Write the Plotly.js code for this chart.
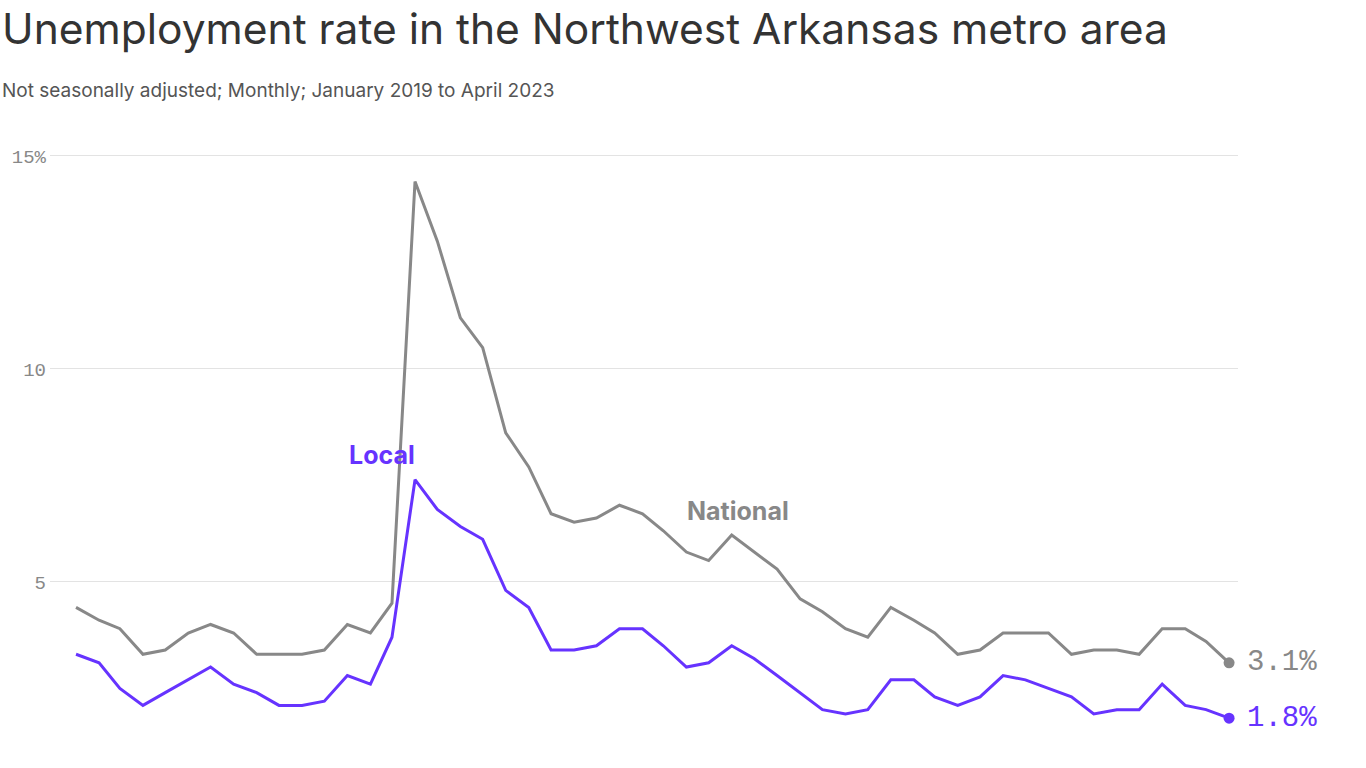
<!DOCTYPE html>
<html>
<head>
<meta charset="utf-8">
<script src="https://cdn.plot.ly/plotly-3.0.1.min.js"></script>
<style>
html,body{margin:0;padding:0;background:#fff;}
#chart{width:1366px;height:768px;}
</style>
</head>
<body>
<div id="chart"></div>
<script>
// Monthly, January 2019 to April 2023
const startYear = 2019;
const monthCount = 52;
const national = [
  4.4, 4.1, 3.9, 3.3, 3.4, 3.8, 4.0, 3.8, 3.3, 3.3, 3.3, 3.4,
  4.0, 3.8, 4.5, 14.4, 13.0, 11.2, 10.5, 8.5, 7.7, 6.6, 6.4, 6.5,
  6.8, 6.6, 6.2, 5.7, 5.5, 6.1, 5.7, 5.3, 4.6, 4.3, 3.9, 3.7,
  4.4, 4.1, 3.8, 3.3, 3.4, 3.8, 3.8, 3.8, 3.3, 3.4, 3.4, 3.3,
  3.9, 3.9, 3.6, 3.1
];
const local = [
  3.3, 3.1, 2.5, 2.1, 2.4, 2.7, 3.0, 2.6, 2.4, 2.1, 2.1, 2.2,
  2.8, 2.6, 3.7, 7.4, 6.7, 6.3, 6.0, 4.8, 4.4, 3.4, 3.4, 3.5,
  3.9, 3.9, 3.5, 3.0, 3.1, 3.5, 3.2, 2.8, 2.4, 2.0, 1.9, 2.0,
  2.7, 2.7, 2.3, 2.1, 2.3, 2.8, 2.7, 2.5, 2.3, 1.9, 2.0, 2.0,
  2.6, 2.1, 2.0, 1.8
];
const yTickVals = [5, 10, 15];
const yTickText = ["5", "10", "15%"];
const seriesLabels = ["Local", "National"];

const months = [];
for (let i = 0; i < monthCount; i++) {
  const y = startYear + Math.floor(i / 12);
  const m = (i % 12) + 1;
  months.push(y + "-" + String(m).padStart(2, "0") + "-01");
}

const PURPLE = "#6633ff";
const GRAY = "#888888";
const MONO = "Liberation Mono, DejaVu Sans Mono, monospace";
const SANS = "Inter, Roboto, sans-serif";
const last = monthCount - 1;

const traces = [
  {x: months, y: national, type: "scatter", mode: "lines",
   line: {color: GRAY, width: 3}, hoverinfo: "skip"},
  {x: months, y: local, type: "scatter", mode: "lines",
   line: {color: PURPLE, width: 3}, hoverinfo: "skip"},
  {x: [months[last]], y: [national[last]], type: "scatter", mode: "markers",
   marker: {color: GRAY, size: 11}, cliponaxis: false, hoverinfo: "skip"},
  {x: [months[last]], y: [local[last]], type: "scatter", mode: "markers",
   marker: {color: PURPLE, size: 11}, cliponaxis: false, hoverinfo: "skip"}
];

const L = 50, W = 1188, T = 130, H = 615;
const px = p => (p - L) / W;
const py = p => 1 - (p - T) / H;

const layout = {
  width: 1366, height: 768,
  margin: {l: L, r: 1366 - L - W, t: T, b: 768 - T - H},
  paper_bgcolor: "#fff", plot_bgcolor: "#fff",
  showlegend: false,
  xaxis: {
    type: "date",
    range: ["2018-11-27", "2023-04-13"],
    showgrid: false, zeroline: false, showline: false,
    showticklabels: false, ticks: ""
  },
  yaxis: {
    range: [1.17, 15.61],
    tickvals: yTickVals, ticktext: yTickText,
    showgrid: true, gridcolor: "#e3e3e3", gridwidth: 1,
    zeroline: false, showline: false, ticks: "",
    tickfont: {family: MONO, size: 19, color: "#888"},
    ticklabelstandoff: 3
  },
  annotations: [
    {xref: "paper", yref: "paper", x: px(0), y: py(28), xanchor: "left", yanchor: "middle",
     text: "Unemployment rate in the Northwest Arkansas metro area", showarrow: false,
     font: {family: SANS, size: 42.5, color: "#333"}},
    {xref: "paper", yref: "paper", x: px(0), y: py(90), xanchor: "left", yanchor: "middle",
     text: "Not seasonally adjusted; Monthly; January 2019 to April 2023", showarrow: false,
     font: {family: SANS, size: 19, color: "#555"}},
    {xref: "paper", yref: "paper", x: px(382), y: py(455), xanchor: "center", yanchor: "middle",
     text: "<b>" + seriesLabels[0] + "</b>", showarrow: false,
     font: {family: SANS, size: 25, color: PURPLE}},
    {xref: "paper", yref: "paper", x: px(738), y: py(511), xanchor: "center", yanchor: "middle",
     text: "<b>" + seriesLabels[1] + "</b>", showarrow: false,
     font: {family: SANS, size: 25, color: GRAY}},
    {xref: "x", yref: "y", x: months[last], y: national[last], xanchor: "left", yanchor: "middle",
     xshift: 16, text: national[last].toFixed(1) + "%", showarrow: false,
     font: {family: MONO, size: 29, color: GRAY}},
    {xref: "x", yref: "y", x: months[last], y: local[last], xanchor: "left", yanchor: "middle",
     xshift: 16, text: local[last].toFixed(1) + "%", showarrow: false,
     font: {family: MONO, size: 29, color: PURPLE}}
  ]
};

Plotly.newPlot("chart", traces, layout, {displayModeBar: false, staticPlot: true});
</script>
</body>
</html>
